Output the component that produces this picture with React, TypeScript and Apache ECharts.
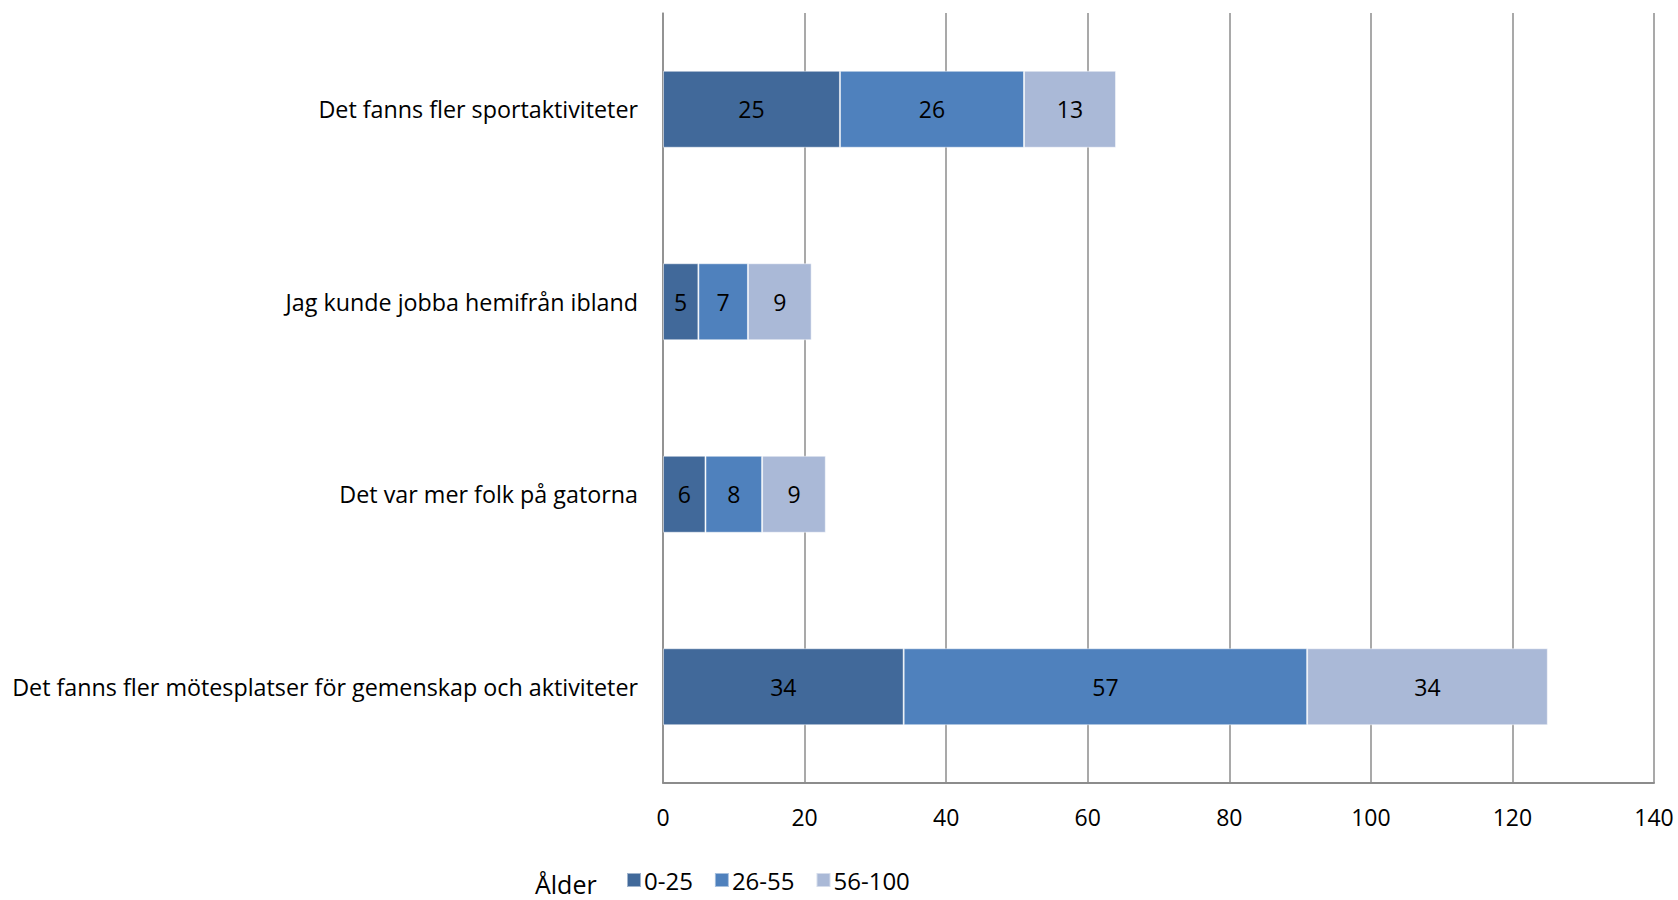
import React, { useEffect, useRef } from "react";
import * as echarts from "echarts";

const categories = [
  "Det fanns fler sportaktiviteter",
  "Jag kunde jobba hemifrån ibland",
  "Det var mer folk på gatorna",
  "Det fanns fler mötesplatser för gemenskap och aktiviteter",
];
const seriesNames = ["0-25", "26-55", "56-100"];
const age0_25 = [25, 5, 6, 34];
const age26_55 = [26, 7, 8, 57];
const age56_100 = [13, 9, 9, 34];
const colors = ["#41699a", "#4f81bd", "#aab9d7"];
const legendTitle = "Ålder";

const FONT = "'Open Sans', sans-serif";

export default function App() {
  const ref = useRef<HTMLDivElement>(null);
  useEffect(() => {
    if (!ref.current) return;
    const chart = echarts.init(ref.current, undefined, { renderer: "svg" });
    const values = [age0_25, age26_55, age56_100];
    chart.setOption({
      animation: false,
      backgroundColor: "#ffffff",
      textStyle: { fontFamily: FONT },
      grid: { left: 663, right: 24, top: 13, bottom: 117, containLabel: false },
      title: {
        text: legendTitle,
        left: 535,
        top: 871,
        textStyle: {
          fontFamily: FONT,
          fontSize: 25,
          lineHeight: 26,
          fontWeight: "normal",
          color: "#000",
        },
        padding: 0,
      },
      legend: {
        data: seriesNames,
        left: 626,
        top: 868,
        itemWidth: 14,
        itemHeight: 14,
        itemGap: 21,
        icon: "rect",
        padding: 0,
        textStyle: { fontFamily: FONT, fontSize: 24, color: "#000", padding: [0, 0, 0, -2] },
      },
      xAxis: {
        type: "value",
        min: 0,
        max: 140,
        interval: 20,
        axisLine: { show: true, lineStyle: { color: "#8c8c8c", width: 2 } },
        axisTick: { show: false },
        splitLine: { show: true, lineStyle: { color: "#8c8c8c", width: 1.5 } },
        axisLabel: { fontFamily: FONT, fontSize: 23, color: "#000", margin: 22 },
      },
      yAxis: {
        type: "category",
        inverse: true,
        data: categories,
        axisLine: { show: true, lineStyle: { color: "#8c8c8c", width: 1.5 } },
        axisTick: { show: false },
        axisLabel: { fontFamily: FONT, fontSize: 23.3, color: "#000", margin: 25 },
      },
      series: seriesNames.map((name, i) => ({
        name,
        type: "bar",
        stack: "total",
        barWidth: "40%",
        data: values[i],
        itemStyle: { color: colors[i], borderColor: "rgba(255,255,255,0.5)", borderWidth: 1 },
        label: {
          show: true,
          position: "inside",
          fontFamily: FONT,
          fontSize: 23,
          color: "#000",
        },
      })),
    });
    return () => chart.dispose();
  }, []);
  return (
    <div
      ref={ref}
      style={{ position: "fixed", left: 0, top: 0, width: 1678, height: 900 }}
    />
  );
}
